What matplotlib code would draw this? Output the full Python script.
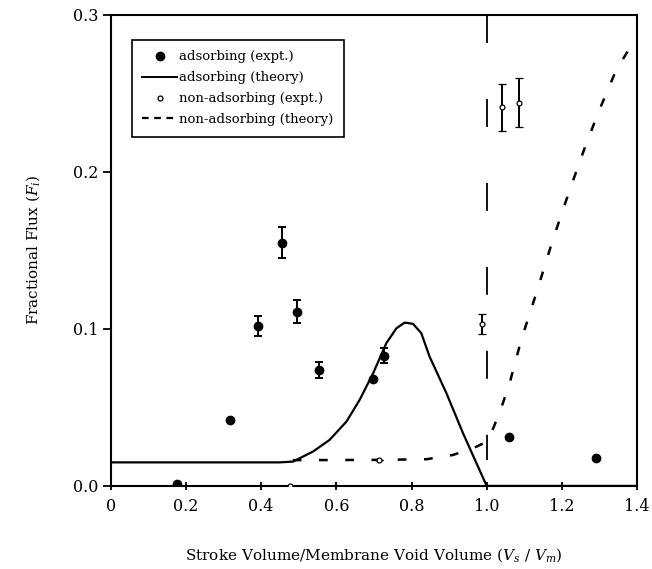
import numpy as np
import matplotlib.pyplot as plt
from matplotlib.lines import Line2D

plt.rcParams['font.family'] = ['DejaVu Serif']
plt.rcParams['mathtext.fontset'] = 'dejavuserif'

# adsorbing, experiment
ads_x = [0.176, 0.318, 0.392, 0.456, 0.496, 0.555, 0.698, 0.727, 1.059, 1.29]
ads_y = [0.001, 0.042, 0.102, 0.155, 0.111, 0.074, 0.068, 0.083, 0.031, 0.018]
ads_err = [0, 0, 0.0065, 0.010, 0.0075, 0.005, 0, 0.005, 0, 0]

# non-adsorbing, experiment
non_x = [0.476, 0.714, 0.988, 1.042, 1.086]
non_y = [0.0, 0.0165, 0.103, 0.241, 0.244]
non_err = [0, 0, 0.0065, 0.015, 0.0155]

# adsorbing, theory
ads_th_x = [0.0, 0.449, 0.485, 0.538, 0.582, 0.627, 0.662, 0.698, 0.733, 0.76,
            0.782, 0.804, 0.826, 0.848, 0.893, 0.937, 1.0, 1.4]
ads_th_y = [0.015, 0.015, 0.0155, 0.0219, 0.0293, 0.041, 0.0548, 0.0718, 0.0909, 0.1004,
            0.104, 0.1032, 0.0973, 0.0824, 0.059, 0.0336, 0.0, 0.0]

# non-adsorbing, theory
non_th_x = [0.484, 0.715, 0.84, 0.91, 0.964, 0.999, 1.008, 1.034, 1.061, 1.092,
            1.132, 1.176, 1.221, 1.265, 1.30, 1.345, 1.394]
non_th_y = [0.0164, 0.0166, 0.017, 0.0197, 0.024, 0.028, 0.0314, 0.0463, 0.0654, 0.093,
            0.1227, 0.1567, 0.1885, 0.218, 0.2395, 0.265, 0.284]

fig = plt.figure(figsize=(6.52, 5.69), dpi=100)
ax = fig.add_axes([0.170, 0.146, 0.807, 0.828])

ax.plot(ads_th_x, ads_th_y, color='black', lw=1.6, zorder=2)
ax.plot(non_th_x, non_th_y, color='black', lw=1.8, linestyle=(0, (3.5, 7)), zorder=2)

# vertical marker at Vs/Vm = 1
ax.plot([1.0, 1.0], [0.3, 0.0166], color='black', lw=1.3, linestyle=(0, (15.5, 31)))

ax.errorbar(ads_x, ads_y, yerr=ads_err, fmt='o', color='black', ms=6,
            capsize=3, elinewidth=1.4, capthick=1.4, zorder=3)
ax.errorbar(non_x, non_y, yerr=non_err, fmt='o', mfc='white', mec='black', ms=3.5,
            mew=0.9, ecolor='black', capsize=3, elinewidth=1.4, capthick=1.4, zorder=3)

ax.set_xlim(0, 1.4)
ax.set_ylim(0, 0.3)
ax.set_xticks([0, 0.2, 0.4, 0.6, 0.8, 1.0, 1.2, 1.4])
ax.set_xticklabels(['0', '0.2', '0.4', '0.6', '0.8', '1.0', '1.2', '1.4'])
ax.set_yticks([0, 0.1, 0.2, 0.3])
ax.set_yticklabels(['0.0', '0.1', '0.2', '0.3'])
ax.tick_params(axis='both', labelsize=11.5, width=1.3, color='black')
ax.tick_params(axis='x', direction='inout', length=6, pad=6)
ax.tick_params(axis='y', direction='out', length=6, pad=3)
for s in ax.spines.values():
    s.set_linewidth(1.5)

ax.set_xlabel('Stroke Volume/Membrane Void Volume ($V_s$ / $V_m$)', fontsize=11, labelpad=22)
ax.set_ylabel('Fractional Flux ($F_i$)', fontsize=11, labelpad=22)

handles = [
    Line2D([], [], marker='o', color='black', ls='none', ms=6),
    Line2D([], [], color='black', lw=1.4),
    Line2D([], [], marker='o', mfc='white', mec='black', ls='none', ms=3.5, mew=0.9),
    Line2D([], [], color='black', lw=1.6, ls=(0, (3, 2.5))),
]
labels = ['adsorbing (expt.)', 'adsorbing (theory)',
          'non-adsorbing (expt.)', 'non-adsorbing (theory)']
leg = ax.legend(handles, labels, loc='upper left', bbox_to_anchor=(0.04, 0.947),
                borderaxespad=0, fontsize=9.5, handlelength=2.6, handletextpad=0.2,
                labelspacing=0.6, fancybox=False, framealpha=1, edgecolor='black',
                borderpad=0.8)
leg.get_frame().set_linewidth(1.2)

fig.savefig('out.png', dpi=100)
